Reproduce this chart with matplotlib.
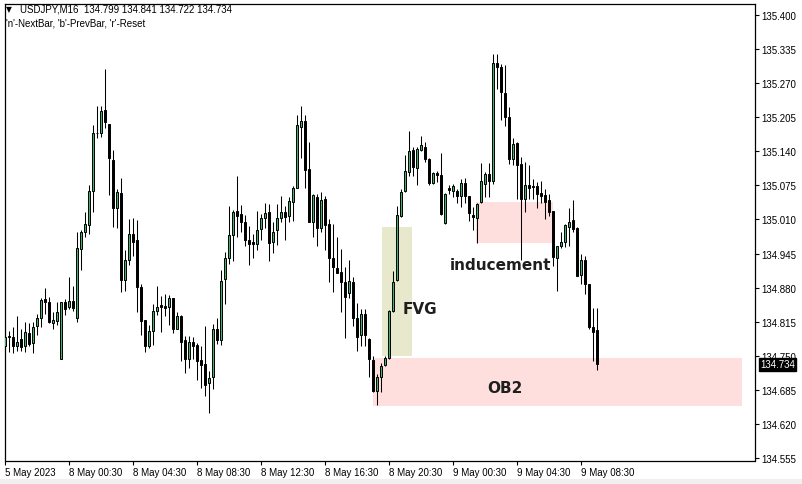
import matplotlib
matplotlib.use("Agg")
import matplotlib.pyplot as plt
from matplotlib.patches import Rectangle
import matplotlib.transforms as mtransforms

# USDJPY M16 candles
opens = [
    134.768, 134.785, 134.785, 134.768, 134.782, 134.768, 134.793, 134.774, 134.806, 134.822,
    134.859, 134.852, 134.812, 134.817, 134.744, 134.852, 134.844, 134.854, 134.823, 134.954,
    134.986, 134.999, 135.064, 135.175, 135.174, 135.219, 135.192, 135.124, 135.031, 135.060,
    134.894, 134.933, 134.982, 134.971, 134.882, 134.818, 134.768, 134.797, 134.835, 134.847,
    134.845, 134.843, 134.861, 134.802, 134.825, 134.780, 134.743, 134.776, 134.771, 134.742,
    134.734, 134.699, 134.709, 134.801, 134.780, 134.897, 134.936, 134.981, 135.026, 135.021,
    135.006, 134.971, 134.968, 134.964, 134.991, 135.012, 135.024, 134.968, 134.989, 135.013,
    135.024, 135.017, 135.044, 135.071, 135.186, 135.197, 135.106, 135.006, 135.052, 134.993,
    135.049, 135.001, 134.936, 134.918, 134.909, 134.890, 134.869, 134.890, 134.822, 134.789,
    134.829, 134.782, 134.742, 134.683, 134.709, 134.733, 134.745, 134.836, 134.895, 135.017,
    135.065, 135.101, 135.143, 135.108, 135.143, 135.148, 135.125, 135.079, 135.098, 135.095,
    135.003, 135.070, 135.065, 135.065, 135.054, 135.079, 135.054, 135.019, 135.012, 135.043,
    135.078, 135.096, 135.083, 135.309, 135.300, 135.251, 135.206, 135.125, 135.155, 135.116,
    135.050, 135.076, 135.073, 135.073, 135.061, 135.057, 135.047, 135.026, 134.936, 134.959,
    134.968, 134.996, 135.009, 134.993, 134.904, 134.933, 134.886, 134.804, 134.799,
]
highs = [
    134.813, 134.797, 134.804, 134.825, 134.801, 134.815, 134.813, 134.814, 134.830, 134.860,
    134.879, 134.863, 134.833, 134.852, 134.853, 134.859, 134.901, 134.884, 134.987, 134.989,
    135.024, 135.075, 135.190, 135.226, 135.227, 135.297, 135.192, 135.143, 135.068, 135.090,
    134.952, 135.011, 135.013, 135.009, 134.887, 134.818, 134.808, 134.849, 134.884, 134.865,
    134.868, 134.866, 134.861, 134.833, 134.827, 134.788, 134.787, 134.785, 134.775, 134.769,
    134.806, 134.721, 134.811, 134.822, 134.914, 134.948, 135.036, 135.028, 135.092, 135.038,
    135.019, 134.997, 134.982, 135.026, 135.021, 135.041, 135.039, 135.006, 135.039, 135.055,
    135.035, 135.052, 135.073, 135.209, 135.226, 135.209, 135.157, 135.058, 135.059, 135.062,
    135.054, 135.011, 135.001, 134.977, 134.954, 134.919, 134.933, 134.900, 134.851, 134.839,
    134.839, 134.783, 134.750, 134.715, 134.737, 134.749, 134.838, 134.912, 135.036, 135.068,
    135.133, 135.178, 135.148, 135.148, 135.169, 135.158, 135.127, 135.101, 135.103, 135.137,
    135.060, 135.075, 135.078, 135.068, 135.087, 135.090, 135.055, 135.033, 135.041, 135.118,
    135.100, 135.118, 135.326, 135.326, 135.307, 135.305, 135.224, 135.165, 135.157, 135.130,
    135.120, 135.114, 135.087, 135.082, 135.084, 135.068, 135.059, 135.027, 134.960, 134.986,
    135.001, 135.031, 135.047, 134.995, 134.945, 134.941, 134.887, 134.841, 134.841,
]
lows = [
    134.758, 134.758, 134.755, 134.760, 134.760, 134.758, 134.768, 134.755, 134.790, 134.804,
    134.830, 134.813, 134.802, 134.808, 134.743, 134.827, 134.839, 134.836, 134.814, 134.914,
    134.976, 134.982, 135.024, 135.165, 135.167, 135.184, 135.057, 134.995, 134.993, 134.871,
    134.874, 134.923, 134.941, 134.833, 134.790, 134.758, 134.764, 134.771, 134.827, 134.796,
    134.825, 134.809, 134.794, 134.801, 134.740, 134.717, 134.726, 134.743, 134.704, 134.688,
    134.674, 134.640, 134.687, 134.773, 134.771, 134.849, 134.925, 134.930, 134.977, 134.987,
    134.960, 134.924, 134.937, 134.951, 134.971, 134.994, 134.931, 134.946, 134.962, 135.005,
    134.970, 135.005, 135.008, 135.070, 135.127, 135.071, 135.006, 134.977, 134.960, 134.987,
    134.951, 134.890, 134.872, 134.907, 134.833, 134.783, 134.860, 134.806, 134.760, 134.768,
    134.769, 134.709, 134.680, 134.656, 134.681, 134.731, 134.744, 134.833, 134.893, 135.014,
    135.062, 135.092, 135.092, 135.075, 135.140, 135.120, 135.076, 135.078, 135.082, 135.019,
    135.001, 135.059, 135.052, 135.041, 135.033, 135.041, 135.008, 134.989, 134.966, 135.041,
    135.052, 135.052, 135.078, 135.259, 135.199, 135.188, 135.116, 135.114, 135.050, 134.932,
    135.024, 135.050, 135.049, 135.031, 135.041, 135.010, 135.017, 134.922, 134.874, 134.955,
    134.957, 134.960, 134.986, 134.903, 134.887, 134.867, 134.801, 134.741, 134.722,
]
closes = [
    134.785, 134.788, 134.768, 134.776, 134.766, 134.795, 134.772, 134.804, 134.822, 134.857,
    134.852, 134.815, 134.818, 134.833, 134.852, 134.839, 134.854, 134.841, 134.955, 134.987,
    135.001, 135.064, 135.174, 135.174, 135.217, 135.195, 135.127, 135.031, 135.062, 134.895,
    134.933, 134.982, 134.968, 134.882, 134.817, 134.769, 134.797, 134.835, 134.844, 134.844,
    134.842, 134.861, 134.802, 134.825, 134.777, 134.743, 134.776, 134.768, 134.741, 134.733,
    134.695, 134.707, 134.801, 134.781, 134.892, 134.936, 134.981, 135.024, 135.017, 135.006,
    134.971, 134.964, 134.964, 134.990, 135.012, 135.022, 134.966, 134.987, 135.012, 135.024,
    135.015, 135.045, 135.071, 135.190, 135.197, 135.105, 135.006, 135.057, 134.993, 135.047,
    135.000, 134.936, 134.919, 134.908, 134.890, 134.863, 134.892, 134.823, 134.785, 134.829,
    134.789, 134.743, 134.683, 134.709, 134.730, 134.745, 134.836, 134.890, 135.019, 135.062,
    135.102, 135.140, 135.110, 135.145, 135.152, 135.125, 135.079, 135.098, 135.095, 135.021,
    135.059, 135.067, 135.073, 135.054, 135.079, 135.054, 135.022, 135.014, 135.040, 135.083,
    135.096, 135.083, 135.309, 135.300, 135.253, 135.206, 135.125, 135.154, 135.113, 135.050,
    135.076, 135.071, 135.072, 135.059, 135.055, 135.043, 135.024, 134.938, 134.959, 134.968,
    134.999, 135.006, 134.992, 134.903, 134.933, 134.887, 134.804, 134.796, 134.734,
]

time_ticks = [0, 16, 32, 48, 64, 80, 96, 112, 128, 144]
time_labels = ["5 May 2023", "8 May 00:30", "8 May 04:30", "8 May 08:30", "8 May 12:30",
               "8 May 16:30", "8 May 20:30", "9 May 00:30", "9 May 04:30", "9 May 08:30"]
price_ticks = [135.400, 135.335, 135.270, 135.205, 135.140, 135.075, 135.010,
               134.945, 134.880, 134.815, 134.750, 134.685, 134.620, 134.555]
last_price = 134.734

# zones: (label, bar_from, bar_to, price_low, price_high, colour)
zones = [
    ("FVG", 94.2, 101.7, 134.750, 134.996, "#e8e8cc"),
    ("OB2", 91.9, 184.2, 134.654, 134.746, "#ffdede"),
    ("inducement", 117.7, 136.9, 134.965, 135.043, "#ffdede"),
]
zone_labels = [("FVG", 103.7, 134.841), ("inducement", 123.7, 134.925), ("OB2", 124.9, 134.690)]

fig = plt.figure(figsize=(8.02, 4.85), dpi=100)
ax = fig.add_axes([4.5 / 802, 23.5 / 485, 750 / 802, 456.5 / 485])

for name, x0, x1, y0, y1, col in zones:
    ax.add_patch(Rectangle((x0, y0), x1 - x0, y1 - y0, facecolor=col, edgecolor="none", zorder=1))

xs = list(range(len(opens)))
ax.vlines(xs, lows, highs, color="black", linewidth=0.75, zorder=2)
bottoms = [min(o, c) for o, c in zip(opens, closes)]
heights = [max(abs(c - o), 0.0008) for o, c in zip(opens, closes)]
colors = ["#3cb371" if c > o else "black" for o, c in zip(opens, closes)]
ax.bar(xs, heights, bottom=bottoms, width=0.55, color=colors, edgecolor="black",
       linewidth=0.7, zorder=3)

for text, x, y in zone_labels:
    ax.text(x, y, text, ha="center", va="center", fontsize=11, fontweight="bold",
            color="#1e1e1e", zorder=4)

ax.set_xlim(-0.2, 187.3)
ax.set_ylim(134.5503, 135.421)

ax.yaxis.tick_right()
ax.set_yticks(price_ticks)
ax.set_yticklabels([f"{p:.3f}" for p in price_ticks], fontsize=7, family="Liberation Sans")
ax.set_xticks(time_ticks)
ax.set_xticklabels(time_labels, fontsize=7, family="Liberation Sans", ha="left")
ax.tick_params(axis="y", direction="out", length=3, width=0.8, pad=2)
ax.tick_params(axis="x", direction="out", length=3, width=0.8, pad=1.5)
for sp in ax.spines.values():
    sp.set_linewidth(0.9)

# current price label (covers part of the 134.750 label, as in MT4)
trans = mtransforms.blended_transform_factory(ax.transAxes, ax.transData)
ax.text(1.0075, last_price, f"{last_price:.3f}", transform=trans, fontsize=7,
        family="Liberation Sans", color="white", va="center", ha="left",
        bbox=dict(boxstyle="square,pad=0.15", facecolor="black", edgecolor="black"),
        zorder=5, clip_on=False)

fig.text(6 / 802, 1 - 10 / 485, "\u25bc", fontsize=5.5, va="center", ha="left")
fig.text(20 / 802, 1 - 10 / 485, "USDJPY,M16  134.799 134.841 134.722 134.734",
         fontsize=7, family="Liberation Sans", va="center", ha="left")
fig.text(6 / 802, 1 - 24 / 485, "'n'-NextBar, 'b'-PrevBar, 'r'-Reset",
         fontsize=7, family="Liberation Sans", va="center", ha="left")

fig.patches.append(Rectangle((0, 0), 1, 5 / 485, transform=fig.transFigure,
                             facecolor="#f0f0f0", edgecolor="none"))

fig.savefig("out.png", dpi=100)
